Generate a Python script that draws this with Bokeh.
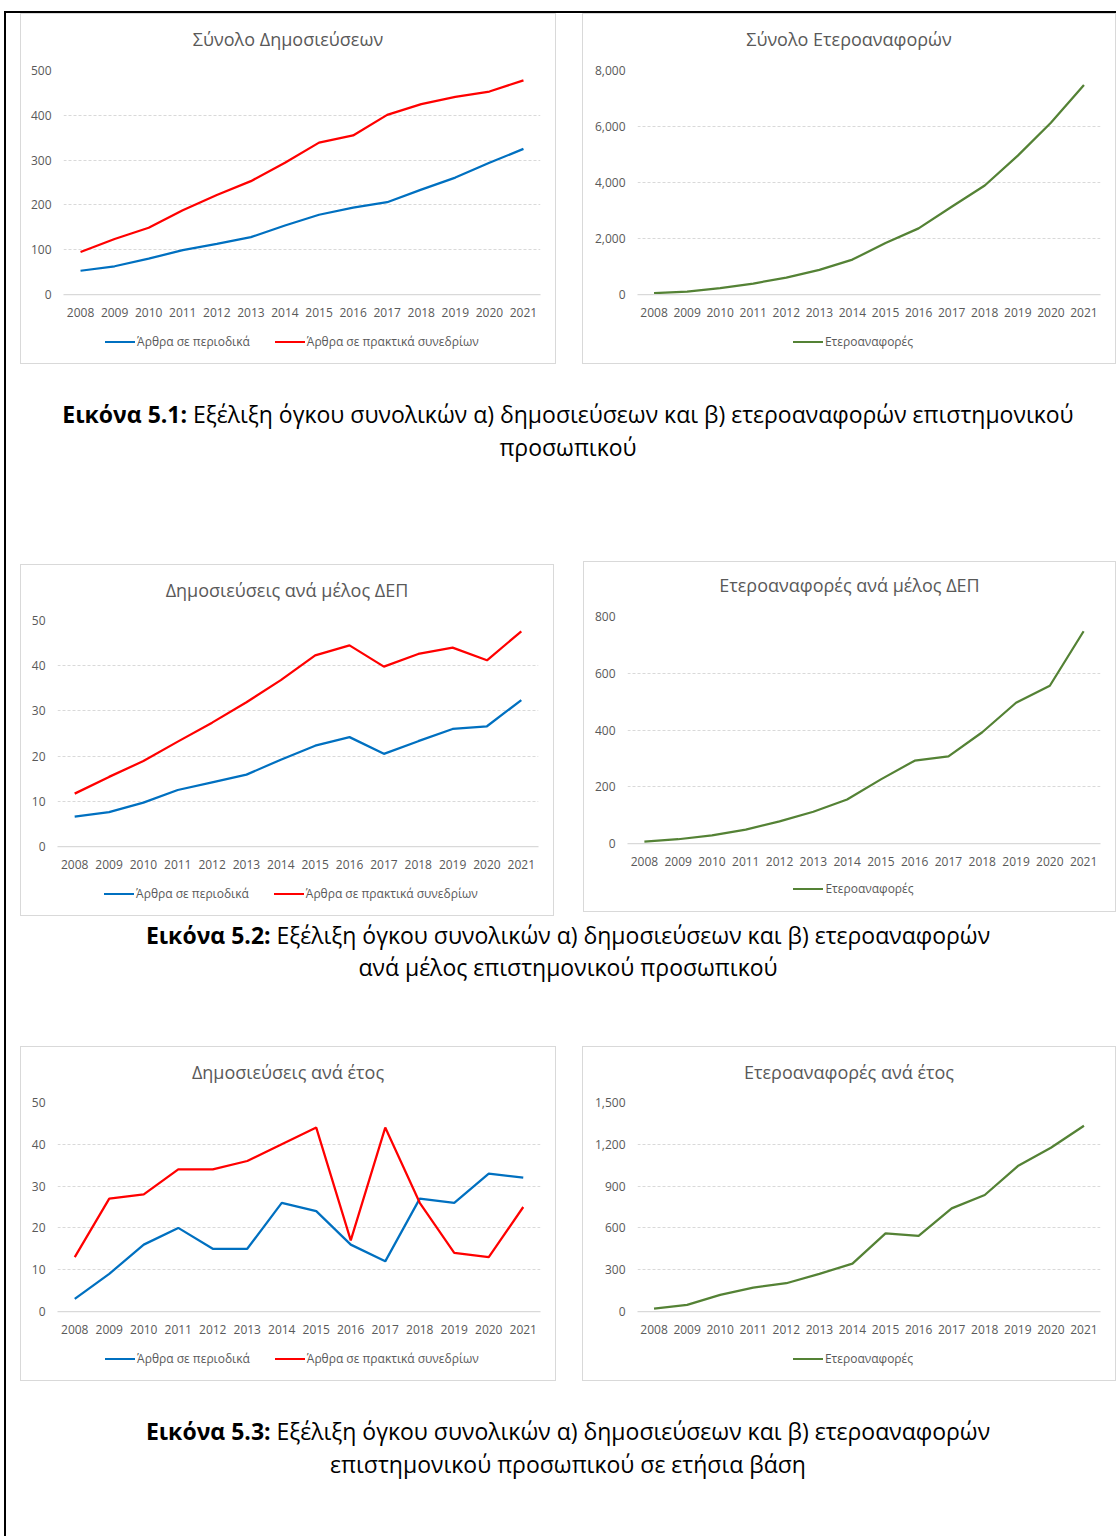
from bokeh.plotting import figure
from bokeh.models import FactorRange, Range1d, FixedTicker, NumeralTickFormatter, Div, Spacer
from bokeh.layouts import row, column
from bokeh.embed import file_html
from bokeh.resources import INLINE

# ---------------- data ----------------
YEARS = ["2008", "2009", "2010", "2011", "2012", "2013", "2014",
         "2015", "2016", "2017", "2018", "2019", "2020", "2021"]

PUB_JOURNAL_TOTAL = [53, 63, 80, 99, 113, 128, 154, 178, 194, 206, 234, 261, 294, 325]
PUB_CONF_TOTAL = [95, 124, 149, 188, 222, 253, 294, 339, 355, 401, 425, 441, 453, 478]
CIT_TOTAL = [50, 100, 225, 392, 605, 878, 1246, 1840, 2362, 3133, 3893, 4961, 6136, 7480]

PUB_JOURNAL_MEMBER = [6.6, 7.6, 9.7, 12.5, 14.2, 15.9, 19.2, 22.3, 24.2, 20.5, 23.3, 26.0, 26.6, 32.4]
PUB_CONF_MEMBER = [11.7, 15.4, 18.9, 23.2, 27.4, 31.9, 36.8, 42.3, 44.5, 39.8, 42.6, 44.0, 41.2, 47.6]
CIT_MEMBER = [7, 15, 29, 49, 78, 112, 155, 226, 292, 307, 392, 496, 556, 748]

PUB_JOURNAL_YEAR = [3, 9, 16, 20, 15, 15, 26, 24, 16, 12, 27, 26, 33, 32]
PUB_CONF_YEAR = [13, 27, 28, 34, 34, 36, 40, 44, 17, 44, 26, 14, 13, 25]
CIT_YEAR = [21, 48, 119, 172, 203, 270, 344, 561, 542, 740, 836, 1044, 1175, 1333]

TICKS_PUB_TOTAL = [0, 100, 200, 300, 400, 500]
TICKS_CIT_TOTAL = [0, 2000, 4000, 6000, 8000]
TICKS_PUB_MEMBER = [0, 10, 20, 30, 40, 50]
TICKS_CIT_MEMBER = [0, 200, 400, 600, 800]
TICKS_PUB_YEAR = [0, 10, 20, 30, 40, 50]
TICKS_CIT_YEAR = [0, 300, 600, 900, 1200, 1500]

LBL_JOURNAL = "Άρθρα σε περιοδικά"
LBL_CONF = "Άρθρα σε πρακτικά συνεδρίων"
LBL_CIT = "Ετεροαναφορές"

BLUE = "#0070C0"
RED = "#FF0000"
GREEN = "#548235"
GREY = "#595959"
LIGHT = "#d9d9d9"
FONT = "Open Sans"

TH = 44   # title strip height
LH = 39   # legend strip height


def title_div(text, w, center_y):
    inner = ('<div style="font-family:\'Open Sans\';font-size:18px;color:%s;text-align:center;'
             'line-height:24px;padding-top:%dpx;width:%dpx;white-space:nowrap;">%s</div>'
             % (GREY, center_y - 12, w, text))
    return Div(text=inner, width=w, height=TH, margin=0)


def legend_div(series, w, center_from_bottom):
    parts = []
    for i, (name, _vals, color) in enumerate(series):
        ml = 25 if i > 0 else 0
        parts.append('<span style="display:inline-block;width:30px;height:2.25px;background:%s;'
                     'margin-left:%dpx;margin-right:2px;"></span><span>%s</span>' % (color, ml, name))
    inner_h = 2 * (LH - center_from_bottom)
    inner = ('<div style="display:flex;justify-content:center;align-items:center;height:%dpx;'
             'width:%dpx;padding-left:8px;font-family:\'Open Sans\';font-size:12px;color:%s;'
             'white-space:nowrap;">%s</div>' % (inner_h, w, GREY, "".join(parts)))
    return Div(text=inner, width=w, height=LH, margin=0)


def make_chart(title, series, ticks, width, height, left, top, bottom, title_y, legend_y):
    iw = width - 2
    fig_h = height - 2 - TH - LH
    p = figure(x_range=FactorRange(factors=YEARS), y_range=Range1d(ticks[0], ticks[-1]),
               width=iw, height=fig_h, output_backend="svg", toolbar_location=None,
               title=None, min_border_left=left - 1, min_border_right=15,
               min_border_top=top - 1 - TH, min_border_bottom=bottom - 1 - LH,
               outline_line_color=None, background_fill_color="white",
               border_fill_color="white")

    for name, vals, color in series:
        p.line(x=YEARS, y=vals, line_color=color, line_width=2.25)

    tk = FixedTicker(ticks=ticks)
    yax = p.yaxis[0]
    yax.ticker = tk
    yax.formatter = NumeralTickFormatter(format="0,0")
    yax.axis_line_color = None
    yax.major_tick_line_color = None
    yax.minor_tick_line_color = None
    yax.major_tick_out = 0
    yax.minor_tick_out = 0
    yax.major_label_standoff = 12
    yax.major_label_text_font_size = "12px"
    yax.major_label_text_color = GREY
    yax.major_label_text_font = FONT

    xax = p.xaxis[0]
    xax.axis_line_color = LIGHT
    xax.axis_line_width = 1.25
    xax.major_tick_line_color = None
    xax.minor_tick_line_color = None
    xax.major_tick_out = 0
    xax.major_label_standoff = 13
    xax.major_label_text_font_size = "12px"
    xax.major_label_text_color = GREY
    xax.major_label_text_font = FONT

    p.xgrid.visible = False
    p.ygrid.ticker = tk
    p.ygrid.grid_line_color = LIGHT
    p.ygrid.grid_line_dash = "3 2"
    p.ygrid.grid_line_width = 1

    box = column(title_div(title, iw, title_y - 1), p, legend_div(series, iw, legend_y - 1),
                 styles={"border": "1px solid " + LIGHT, "background-color": "white"})
    return box


S1 = [(LBL_JOURNAL, PUB_JOURNAL_TOTAL, BLUE), (LBL_CONF, PUB_CONF_TOTAL, RED)]
S2 = [(LBL_CIT, CIT_TOTAL, GREEN)]
S3 = [(LBL_JOURNAL, PUB_JOURNAL_MEMBER, BLUE), (LBL_CONF, PUB_CONF_MEMBER, RED)]
S4 = [(LBL_CIT, CIT_MEMBER, GREEN)]
S5 = [(LBL_JOURNAL, PUB_JOURNAL_YEAR, BLUE), (LBL_CONF, PUB_CONF_YEAR, RED)]
S6 = [(LBL_CIT, CIT_YEAR, GREEN)]

c1 = make_chart("Σύνολο Δημοσιεύσεων", S1, TICKS_PUB_TOTAL, 536, 351, 43, 57, 70, 26, 22)
c2 = make_chart("Σύνολο Ετεροαναφορών", S2, TICKS_CIT_TOTAL, 534, 351, 55, 57, 70, 26, 22)
c3 = make_chart("Δημοσιεύσεις ανά μέλος ΔΕΠ", S3, TICKS_PUB_MEMBER, 534, 352, 37, 56, 70, 26, 22)
c4 = make_chart("Ετεροαναφορές ανά μέλος ΔΕΠ", S4, TICKS_CIT_MEMBER, 533, 351, 44, 55, 69, 24, 23)
c5 = make_chart("Δημοσιεύσεις ανά έτος", S5, TICKS_PUB_YEAR, 536, 335, 37, 56, 70, 26, 22)
c6 = make_chart("Ετεροαναφορές ανά έτος", S6, TICKS_CIT_YEAR, 534, 335, 55, 56, 70, 26, 22)


def bar(w, h):
    return Div(text="", width=w, height=h, margin=0, styles={"background-color": "black"})


def caption(html, height, pad_top, lh):
    inner = ('<div style="font-family:\'Open Sans\';font-size:23px;line-height:%dpx;'
             'text-align:center;color:#000;padding-top:%dpx;padding-left:14px;width:1110px;'
             'white-space:nowrap;">%s</div>' % (lh, pad_top, html))
    return Div(text=inner, width=1110, height=height, margin=0)


cap1 = caption("<b>Εικόνα 5.1:</b> Εξέλιξη όγκου συνολικών α) δημοσιεύσεων και β) ετεροαναφορών επιστημονικού"
               "<br>προσωπικού", 197, 34, 33)
cap2 = caption("<b>Εικόνα 5.2:</b> Εξέλιξη όγκου συνολικών α) δημοσιεύσεων και β) ετεροαναφορών"
               "<br>ανά μέλος επιστημονικού προσωπικού", 130, 3, 32)
cap3 = caption("<b>Εικόνα 5.3:</b> Εξέλιξη όγκου συνολικών α) δημοσιεύσεων και β) ετεροαναφορών"
               "<br>επιστημονικού προσωπικού σε ετήσια βάση", 155, 34, 33)


def sp(w, h):
    return Spacer(width=w, height=h, margin=0)


row1 = row(sp(14, 1), c1, sp(26, 1), c2)
row2 = row(sp(14, 1), column(sp(1, 3), c3), sp(29, 1), c4)
row3 = row(sp(14, 1), c5, sp(26, 1), c6)

body = column(bar(1110, 2), row1, cap1, row2, cap2, row3, cap3)
page = column(sp(1, 11), row(sp(4, 1), bar(2, 1525), body))

open("out.html", "w").write(file_html(page, INLINE))
